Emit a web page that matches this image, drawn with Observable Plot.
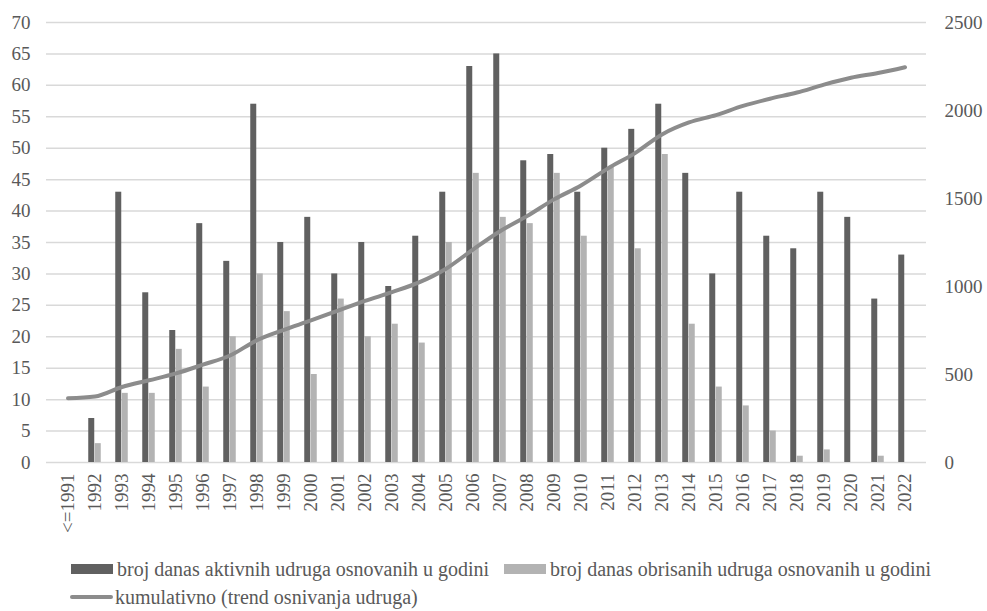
<!DOCTYPE html>
<html><head><meta charset="utf-8">
<script src="https://cdn.jsdelivr.net/npm/d3@7"></script>
<script src="https://cdn.jsdelivr.net/npm/@observablehq/plot@0.6"></script>
<style>
body{margin:0;background:#fff;font-family:'Liberation Serif','Liberation Sans',sans-serif;color:#595959;}
#wrap{position:relative;width:987px;height:611px;overflow:hidden;}
.leg{position:absolute;height:24px;font-size:20px;line-height:24px;white-space:nowrap;display:flex;align-items:center;color:#595959;}
.sw{display:inline-block;width:42px;height:10px;margin-right:4px;}
.ln{display:inline-block;width:43px;height:4px;border-radius:2px;margin-right:2px;background:#8c8c8c;}
</style></head><body>
<div id="wrap">
<div id="chart"></div>
<div class="leg" style="left:71px;top:557px;"><span class="sw" style="background:#606060"></span>broj danas aktivnih udruga osnovanih u godini</div>
<div class="leg" style="left:504px;top:557px;"><span class="sw" style="background:#b3b3b3"></span>broj danas obrisanih udruga osnovanih u godini</div>
<div class="leg" style="left:70px;top:585px;"><span class="ln"></span>kumulativno (trend osnivanja udruga)</div>
</div>
<script>
const years = ["<=1991","1992","1993","1994","1995","1996","1997","1998","1999","2000","2001","2002","2003","2004","2005","2006","2007","2008","2009","2010","2011","2012","2013","2014","2015","2016","2017","2018","2019","2020","2021","2022"];
const active = [0,7,43,27,21,38,32,57,35,39,30,35,28,36,43,63,65,48,49,43,50,53,57,46,30,43,36,34,43,39,26,33];
const deleted = [0,3,11,11,18,12,20,30,24,14,26,20,22,19,35,46,39,38,46,36,47,34,49,22,12,9,5,1,2,0,1,0];
const cumulative = [365,375,429,467,506,556,608,695,754,807,863,918,968,1023,1101,1210,1314,1400,1495,1574,1671,1758,1864,1932,1974,2026,2067,2102,2147,2186,2213,2246];
const leftTicks = [0,5,10,15,20,25,30,35,40,45,50,55,60,65,70];
const rightTicks = [0,500,1000,1500,2000,2500];

const leftMax = 70, rightMax = 2500;
const k = leftMax / rightMax;
const rows = years.map((y, i) => ({year: y, active: active[i], deleted: deleted[i], cum: cumulative[i]}));

const chart = Plot.plot({
  width: 987,
  height: 545,
  marginLeft: 46,
  marginRight: 61,
  marginTop: 22,
  marginBottom: 83,
  style: {fontFamily: "'Liberation Serif','Liberation Sans',sans-serif", fontSize: "19px", color: "#595959", background: "white"},
  x: {type: "band", domain: years, padding: 0},
  y: {domain: [0, leftMax]},
  marks: [
    Plot.ruleY(leftTicks, {stroke: "#d9d9d9", strokeWidth: 1.5}),
    Plot.barY(rows, {x: "year", y: "active", fill: "#606060", insetLeft: 7.25, insetRight: 13.75}),
    Plot.barY(rows, {x: "year", y: "deleted", fill: "#b3b3b3", insetLeft: 13.75, insetRight: 7.25}),
    Plot.lineY(rows, {x: "year", y: d => d.cum * k, stroke: "#8c8c8c", strokeWidth: 4, curve: "monotone-x", strokeLinecap: "round"}),
    Plot.axisY(leftTicks, {anchor: "left", tickSize: 0, tickPadding: 16, label: null, fill: "#595959"}),
    Plot.axisY(rightTicks.map(v => v * k), {anchor: "right", tickSize: 0, tickPadding: 18, label: null, textAnchor: "start", tickFormat: d => String(Math.round(d / k)), fill: "#595959"}),
    Plot.axisX({anchor: "bottom", tickSize: 0, tickPadding: 11, tickRotate: -90, label: null, fill: "#595959"})
  ]
});
document.getElementById("chart").appendChild(chart);
</script>
</body></html>
